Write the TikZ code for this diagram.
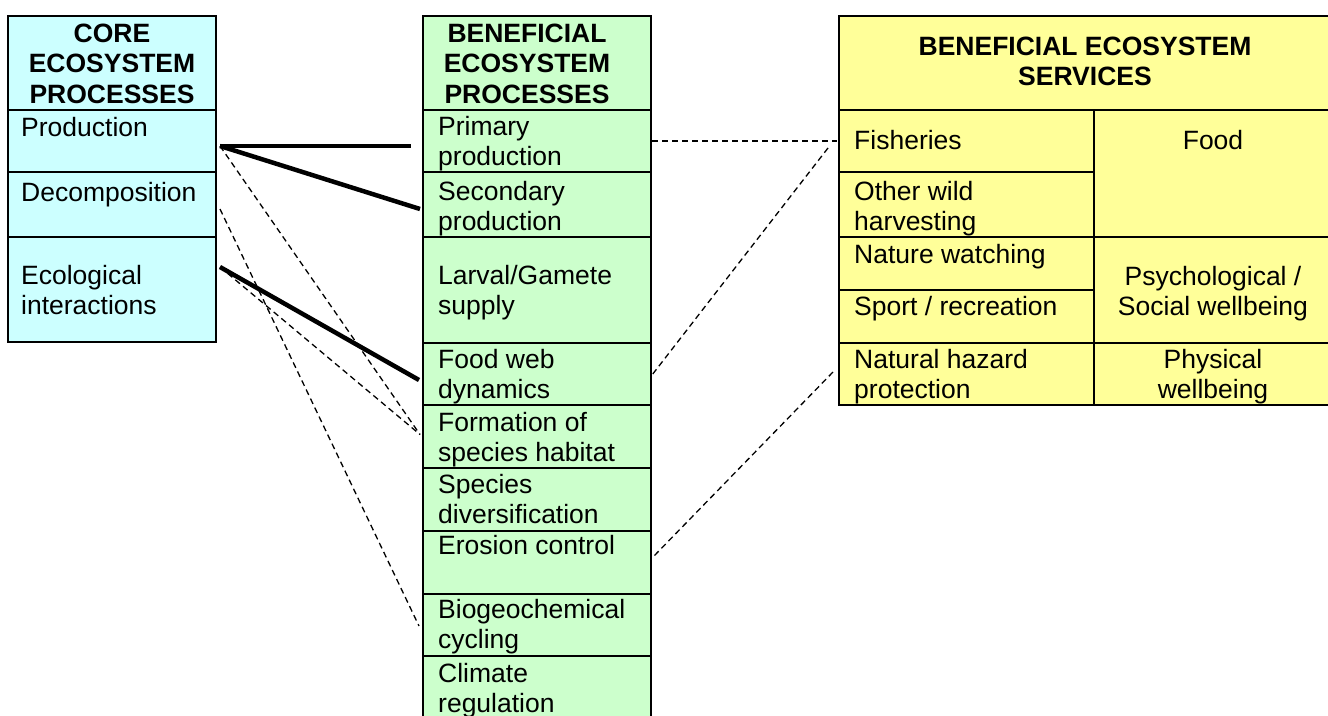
\documentclass[tikz,border=0pt]{standalone}
\usepackage{fontspec}
\setmainfont{Liberation Sans}
\usetikzlibrary{calc}
\definecolor{cyanfill}{HTML}{CCFFFF}
\definecolor{greenfill}{HTML}{CCFFCC}
\definecolor{yellowfill}{HTML}{FFFF99}
\newcommand{\bodyfont}{\fontsize{26.5}{30.5}\selectfont}
\newcommand{\lft}[1]{\parbox[t]{300pt}{\raggedright #1}}
\newcommand{\ctr}[2]{\parbox[t]{#1pt}{\centering #2}}
\begin{document}
\begin{tikzpicture}[x=1pt,y=-1pt,
  cell/.style={draw, line width=2pt, anchor=north west, inner sep=0pt, outer sep=0pt},
  cc/.style={cell, fill=cyanfill},
  cg/.style={cell, fill=greenfill},
  cy/.style={cell, fill=yellowfill},
  tl/.style={anchor=base west, inner sep=0pt, font=\bodyfont},
  tc/.style={anchor=base, inner sep=0pt, font=\bodyfont},
  strong/.style={line width=4.5pt},
  link/.style={line width=1.3pt, dash pattern=on 6pt off 4pt}]
\useasboundingbox (0,0) rectangle (1328,715);
% ---- left table: core processes
\node[cc, minimum width=208, minimum height=94]  (lh)   at (8,16)  {};
\node[cc, minimum width=208, minimum height=62]  (lprod) at (8,110) {};
\node[cc, minimum width=208, minimum height=65]  (ldec) at (8,172) {};
\node[cc, minimum width=208, minimum height=105] (leco) at (8,237) {};
% ---- middle table: beneficial processes
\node[cg, minimum width=228, minimum height=94]  (mh)    at (423,16)  {};
\node[cg, minimum width=228, minimum height=62]  (mprim) at (423,110) {};
\node[cg, minimum width=228, minimum height=65]  (msec)  at (423,172) {};
\node[cg, minimum width=228, minimum height=106] (mlarv) at (423,237) {};
\node[cg, minimum width=228, minimum height=62]  (mfood) at (423,343) {};
\node[cg, minimum width=228, minimum height=63]  (mform) at (423,405) {};
\node[cg, minimum width=228, minimum height=63]  (mspec) at (423,468) {};
\node[cg, minimum width=228, minimum height=63]  (meros) at (423,531) {};
\node[cg, minimum width=228, minimum height=62]  (mbio)  at (423,594) {};
\node[cg, minimum width=228, minimum height=80]  (mclim) at (423,656) {};
% ---- right table: services
\node[cy, minimum width=492, minimum height=94]  (rh)     at (839,16)  {};
\node[cy, minimum width=255, minimum height=62]  (rfish)  at (839,110) {};
\node[cy, minimum width=255, minimum height=65]  (rother) at (839,172) {};
\node[cy, minimum width=255, minimum height=53]  (rnat)   at (839,237) {};
\node[cy, minimum width=255, minimum height=53]  (rsport) at (839,290) {};
\node[cy, minimum width=255, minimum height=62]  (rhaz)   at (839,343) {};
\node[cy, minimum width=237, minimum height=127] (rfood)  at (1094,110) {};
\node[cy, minimum width=237, minimum height=106] (rpsy)   at (1094,237) {};
\node[cy, minimum width=237, minimum height=62]  (rphys)  at (1094,343) {};
% ---- texts, left
\node[tc] (tlh) at (112,42) {\ctr{208}{\bfseries CORE\\ECOSYSTEM\\PROCESSES}};
\node[tl] (tlprod) at (21,136) {Production};
\node[tl] (tldec) at (21,201) {Decomposition};
\node[tl] (tleco) at (21,284) {\lft{Ecological\\interactions}};
% ---- texts, middle
\node[tc] (tmh) at (527,42) {\ctr{228}{\bfseries BENEFICIAL\\ECOSYSTEM\\PROCESSES}};
\node[tl] (tmprim) at (438,135) {\lft{Primary\\production}};
\node[tl] (tmsec) at (438,200) {\lft{Secondary\\production}};
\node[tl] (tmlarv) at (438,284) {\lft{Larval/Gamete\\supply}};
\node[tl] (tmfood) at (438,368) {\lft{Food web\\dynamics}};
\node[tl] (tmform) at (438,431) {\lft{Formation of\\species habitat}};
\node[tl] (tmspec) at (438,493) {\lft{Species\\diversification}};
\node[tl] (tmeros) at (438,554) {Erosion control};
\node[tl] (tmbio) at (438,618) {\lft{Biogeochemical\\cycling}};
\node[tl] (tmclim) at (438,682) {\lft{Climate\\regulation}};
% ---- texts, right
\node[tc] (trh) at (1085,55) {\ctr{480}{\bfseries BENEFICIAL ECOSYSTEM\\SERVICES}};
\node[tl] (trfish) at (854,149) {Fisheries};
\node[tl] (trother) at (854,200) {\lft{Other wild\\harvesting}};
\node[tl] (trnat) at (854,263) {Nature watching};
\node[tl] (trsport) at (854,315) {Sport / recreation};
\node[tl] (trhaz) at (854,368) {\lft{Natural hazard\\protection}};
\node[tc] (trfood) at (1213,149) {Food};
\node[tc] (trpsy) at (1213,285) {\ctr{237}{Psychological /\\Social wellbeing}};
\node[tc] (trphys) at (1213,368) {\ctr{237}{Physical\\wellbeing}};
% ---- strong links
\draw[strong] ([shift={(4,5)}]lprod.east) -- ([shift={(-12,5)}]mprim.west);
\draw[strong] ([shift={(4,5)}]lprod.east) -- ([shift={(-3,4.5)}]msec.west);
\draw[strong] ([shift={(4,-22.5)}]leco.east) -- ([shift={(-4,6)}]mfood.west);
% ---- weak links, left
\draw[link] ([shift={(4,5)}]lprod.east) -- ([shift={(-3,-2)}]mform.west);
\draw[link] ([shift={(4,-22.5)}]leco.east) -- ([shift={(-3,-2)}]mform.west);
\draw[link] ([shift={(4,4.5)}]ldec.east) -- ([shift={(-4,1)}]mbio.west);
% ---- weak links, right
\draw[link] ([shift={(1,0)}]mprim.east) -- ([shift={(-2,0)}]rfish.west);
\draw[link] ([shift={(-11,7)}]rfish.west) -- ([shift={(1,1)}]mfood.east);
\draw[link] ([shift={(-6,-2)}]rhaz.west) -- ([shift={(2,-5.5)}]meros.east);
\end{tikzpicture}
\end{document}
